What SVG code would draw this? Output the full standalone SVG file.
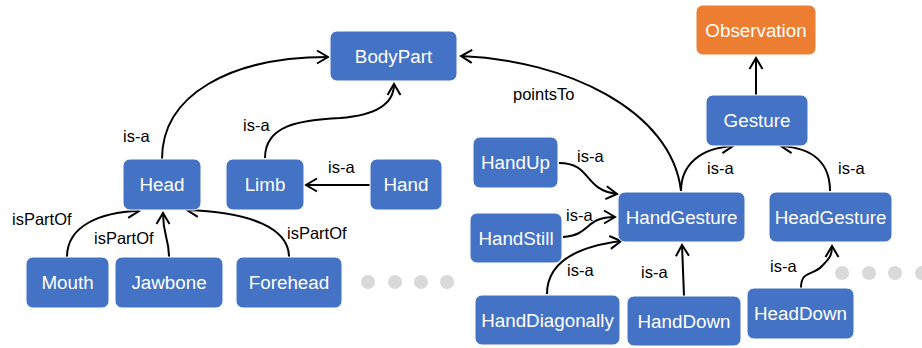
<svg xmlns="http://www.w3.org/2000/svg" width="922" height="348" viewBox="0 0 922 348">
  <style>
    .node rect { fill: #4472C4; stroke: #ffffff; stroke-width: 1; }
    .node.obs rect { fill: #ED7D31; }
    .node text { font-family: "Liberation Sans", Arial, sans-serif; font-size: 18.8px; fill: #ffffff; text-anchor: middle; }
    .edge { fill: none; stroke: #000000; stroke-width: 2; }
    .lbl { font-family: "Liberation Sans", Arial, sans-serif; font-size: 16.5px; fill: #000000; }
    .dot { fill: #D9D9D9; }
  </style>
  <defs>
    <marker id="arrow" markerUnits="userSpaceOnUse" markerWidth="24" markerHeight="24" viewBox="-12 -12 24 24" refX="0" refY="0" orient="auto">
      <path d="M-11,-6.5 L0,0 L-11,6.5" fill="none" stroke="#000000" stroke-width="2"/>
    </marker>
  </defs>

  <!-- connectors -->
  <g id="connectors">
    <path class="edge" marker-end="url(#arrow)" d="M162,159 C162,95 230,57 328,57"/>
    <path class="edge" marker-end="url(#arrow)" d="M265,158 C265,125 300,120 340,118 C380,115 394,102 394,84"/>
    <path class="edge" marker-end="url(#arrow)" d="M370,185 L306,185"/>
    <path class="edge" marker-end="url(#arrow)" d="M67,257 C67,226 100,212 139,211"/>
    <path class="edge" marker-end="url(#arrow)" d="M169,257 C169,238 163,236 163,213"/>
    <path class="edge" marker-end="url(#arrow)" d="M289,257 C289,228 250,212 187,210"/>
    <path class="edge" marker-end="url(#arrow)" d="M681,191 C672,110 565,60 461,56"/>
    <path class="edge" marker-end="url(#arrow)" d="M756,95 L756,58"/>
    <path class="edge" marker-end="url(#arrow)" d="M681,191 C681,165 700,148 733,146"/>
    <path class="edge" marker-end="url(#arrow)" d="M830,191 C830,165 815,148 781,146"/>
    <path class="edge" marker-end="url(#arrow)" d="M559,163 C592,163 583,190 617,194"/>
    <path class="edge" marker-end="url(#arrow)" d="M563,237 C592,235 584,217 615,217"/>
    <path class="edge" marker-end="url(#arrow)" d="M547,294 C547,256 590,245 621,241"/>
    <path class="edge" marker-end="url(#arrow)" d="M684,296 L682,245"/>
    <path class="edge" marker-end="url(#arrow)" d="M801,288 C801,270 813,276 822,266 C830,258 832,255 832,246"/>
  </g>

  <!-- connector labels -->
  <g id="labels">
    <text class="lbl" x="123" y="142">is-a</text>
    <text class="lbl" x="243" y="131">is-a</text>
    <text class="lbl" x="328" y="173">is-a</text>
    <text class="lbl" x="12" y="225">isPartOf</text>
    <text class="lbl" x="94" y="244">isPartOf</text>
    <text class="lbl" x="287" y="239">isPartOf</text>
    <text class="lbl" x="513" y="100">pointsTo</text>
    <text class="lbl" x="707" y="174">is-a</text>
    <text class="lbl" x="838" y="174">is-a</text>
    <text class="lbl" x="577" y="162">is-a</text>
    <text class="lbl" x="566" y="221">is-a</text>
    <text class="lbl" x="567" y="276">is-a</text>
    <text class="lbl" x="641" y="278">is-a</text>
    <text class="lbl" x="770" y="272">is-a</text>
  </g>

  <!-- nodes -->
  <g id="BodyPart" class="node"><rect x="330" y="31" width="127" height="50" rx="7"/><text x="393.5" y="62.5">BodyPart</text></g>
  <g id="Observation" class="node obs"><rect x="696" y="5" width="120" height="50" rx="7"/><text x="756" y="36.5">Observation</text></g>
  <g id="Gesture" class="node"><rect x="706" y="95" width="102" height="51" rx="7"/><text x="757" y="127">Gesture</text></g>
  <g id="Head" class="node"><rect x="123" y="159" width="78" height="51" rx="7"/><text x="162" y="191">Head</text></g>
  <g id="Limb" class="node"><rect x="226" y="159" width="78" height="51" rx="7"/><text x="265" y="191">Limb</text></g>
  <g id="Hand" class="node"><rect x="370" y="159" width="72" height="51" rx="7"/><text x="406" y="191">Hand</text></g>
  <g id="Mouth" class="node"><rect x="26" y="257" width="83" height="51" rx="7"/><text x="67.5" y="289">Mouth</text></g>
  <g id="Jawbone" class="node"><rect x="115" y="257" width="108" height="51" rx="7"/><text x="169" y="289">Jawbone</text></g>
  <g id="Forehead" class="node"><rect x="236" y="257" width="106" height="51" rx="7"/><text x="289" y="289">Forehead</text></g>
  <g id="HandUp" class="node"><rect x="473" y="137" width="85" height="51" rx="7"/><text x="515.5" y="169">HandUp</text></g>
  <g id="HandGesture" class="node"><rect x="618" y="192" width="127" height="50" rx="7"/><text x="681.5" y="223.5">HandGesture</text></g>
  <g id="HeadGesture" class="node"><rect x="769" y="192" width="123" height="50" rx="7"/><text x="830.5" y="223.5">HeadGesture</text></g>
  <g id="HandStill" class="node"><rect x="470" y="213" width="92" height="50" rx="7"/><text x="516" y="244.5">HandStill</text></g>
  <g id="HandDiagonally" class="node"><rect x="475" y="295" width="145" height="50" rx="7"/><text x="547.5" y="326.5">HandDiagonally</text></g>
  <g id="HandDown" class="node"><rect x="627" y="296" width="114" height="50" rx="7"/><text x="684" y="327.5">HandDown</text></g>
  <g id="HeadDown" class="node"><rect x="747" y="288" width="107" height="51" rx="7"/><text x="800.5" y="320">HeadDown</text></g>

  <!-- ellipsis dots -->
  <g id="more-left">
    <circle class="dot" cx="368" cy="282" r="7"/>
    <circle class="dot" cx="395" cy="282" r="7"/>
    <circle class="dot" cx="421" cy="282" r="7"/>
    <circle class="dot" cx="447" cy="282" r="7"/>
  </g>
  <g id="more-right">
    <circle class="dot" cx="842" cy="273" r="7"/>
    <circle class="dot" cx="869" cy="273" r="7"/>
    <circle class="dot" cx="895" cy="273" r="7"/>
    <circle class="dot" cx="922" cy="273" r="7"/>
  </g>
</svg>
